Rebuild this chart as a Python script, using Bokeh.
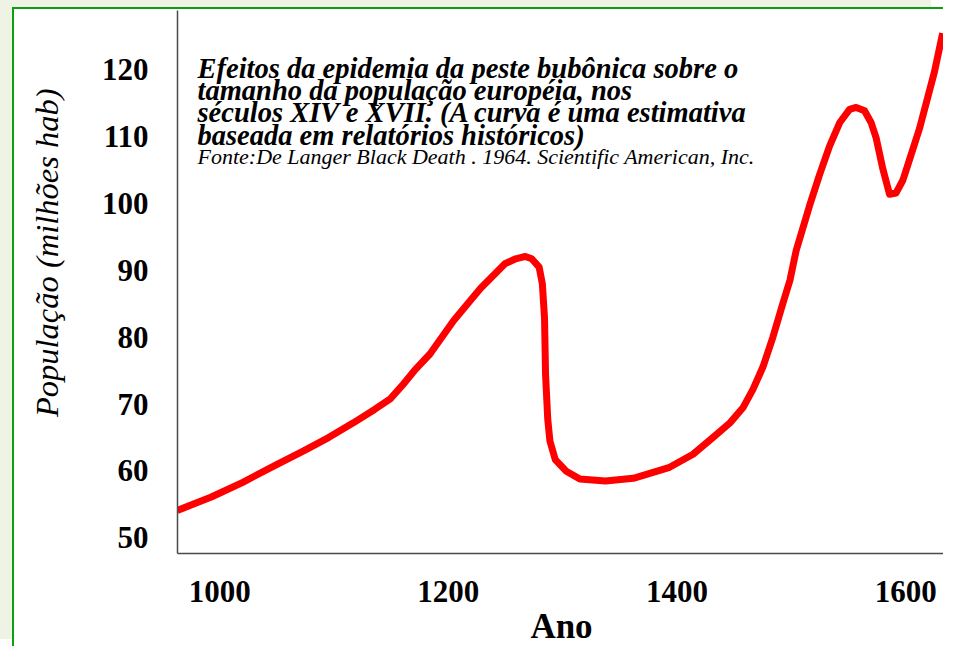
from bokeh.plotting import figure
from bokeh.models import FixedTicker, Range1d, Label, Title, LinearAxis
from bokeh.embed import file_html
from bokeh.resources import INLINE

# ---- data ----
years = [963, 992.7, 1020.2, 1046.8, 1073.4, 1095.2, 1116.9, 1135.5, 1149.2, 1159.7,
         1170.2, 1183.9, 1204.7, 1228.0, 1249.5, 1258.9, 1267.3, 1272.9, 1279.4, 1282.2,
         1284.1, 1285.0, 1286.9, 1288.8, 1293.5, 1302.8, 1315.0, 1337.4, 1361.7, 1393.5,
         1414.0, 1431.4, 1446.3, 1457.6, 1466.4, 1475.1, 1483.8, 1492.6, 1498.7, 1504.2,
         1515.9, 1524.6, 1533.4, 1542.2, 1550.9, 1556.7, 1564.0, 1569.8, 1574.2, 1580.0,
         1585.9, 1591.6, 1597.5, 1603.2, 1612.0, 1625.1, 1632.3]
population = [54.1, 56.1, 58.3, 60.7, 63.0, 65.0, 67.2, 69.2, 70.8, 72.8,
              75.0, 77.5, 82.5, 87.3, 91.0, 91.75, 92.1, 91.75, 90.5, 88.0,
              82.9, 74.5, 67.8, 64.5, 61.7, 60.0, 58.8, 58.5, 58.9, 60.55,
              62.5, 65.0, 67.2, 69.45, 72.2, 75.55, 80.0, 85.1, 88.5, 93.0,
              99.7, 104.3, 108.6, 112.1, 114.1, 114.4, 113.9, 112.1, 109.8, 105.2,
              101.4, 101.6, 103.5, 106.5, 111.2, 119.7, 125.5]
x_ticks = [1000, 1200, 1400, 1600]
y_ticks = [50, 60, 70, 80, 90, 100, 110, 120]
title_lines = [
    "Efeitos da epidemia da peste bubônica sobre o",
    "tamanho  da população européia, nos",
    "séculos XIV e XVII. (A curva é uma estimativa",
    "baseada em relatórios históricos)",
]
source_line = "Fonte:De Langer Black Death . 1964. Scientific American, Inc."
y_label = "População (milhões hab)"
x_label = "Ano"

# ---- figure geometry ----
X0, X1 = 963.1, 1634.8
Y0, Y1 = 47.65, 128.9
W, H = 931, 639
LEFT, TOP, BOTTOM = 163, 1, 92
FRAME_W = W - LEFT
FRAME_H = H - TOP - BOTTOM

GREEN = "#0e9e12"
BACK = "#eef3e3"

p = figure(width=W, height=H, output_backend="svg", toolbar_location=None,
           x_range=Range1d(X0, X1), y_range=Range1d(Y0, Y1),
           min_border_left=LEFT, min_border_right=0, min_border_top=TOP,
           min_border_bottom=BOTTOM)
# green frame around the whole chart, light backdrop outside it
p.styles = {"margin-left": "12px", "margin-top": "7px",
            "border-left": f"2px solid {GREEN}", "border-top": f"2px solid {GREEN}",
            "box-shadow": f"-12px -7px 0 0 {BACK}"}
p.background_fill_color = "white"
p.border_fill_color = "white"
p.outline_line_color = None
p.grid.visible = False

p.line(years, population, line_color="#ff0000", line_width=7, line_join="round")

FONT = "Liberation Serif"
for ax in (p.xaxis[0], p.yaxis[0]):
    ax.axis_line_color = "#4a4a4a"
    ax.axis_line_width = 1.5
    ax.major_tick_line_color = None
    ax.minor_tick_line_color = None
    ax.major_tick_out = 0
    ax.major_tick_in = 0
    ax.major_label_text_font = FONT
    ax.major_label_text_font_style = "bold"
    ax.major_label_text_color = "black"
    ax.axis_label_text_font = FONT
    ax.axis_label_text_color = "black"

p.xaxis.ticker = FixedTicker(ticks=x_ticks)
p.xaxis.major_label_text_font_size = "31px"
p.xaxis.major_label_standoff = 27
p.xaxis.axis_label = x_label
p.xaxis.axis_label_text_font_size = "35px"
p.xaxis.axis_label_text_font_style = "bold"
p.xaxis.axis_label_standoff = 2

p.yaxis.ticker = FixedTicker(ticks=y_ticks)
p.yaxis.major_label_text_font_size = "31px"
p.yaxis.major_label_standoff = 29

# invisible spacer (white tick on white) between tick labels and the y title
spacer = LinearAxis(ticker=FixedTicker(ticks=[y_ticks[0]]), axis_line_color=None,
                    major_tick_line_color="white", minor_tick_line_color=None,
                    major_tick_out=24, major_tick_in=0, minor_tick_out=0,
                    minor_tick_in=0, major_label_standoff=0,
                    major_label_overrides={y_ticks[0]: ""},
                    major_label_text_font_size="1px")
p.add_layout(spacer, "left")

# y-axis title: a rotated title in the left panel, outside the tick labels
p.add_layout(Title(text=y_label, text_font=FONT, text_font_style="italic",
                   text_font_size="32.5px", text_color="black", align="right",
                   offset=78, standoff=20), "left")


# helpers to place annotation text relative to the frame (pixels from frame corner)
def fx(px):
    return X0 + px * (X1 - X0) / FRAME_W


def fy(py):
    return Y1 - py * (Y1 - Y0) / FRAME_H


for i, line in enumerate(title_lines):
    p.add_layout(Label(x=fx(20), y=fy(58 + 22.5 * i), text=line,
                       text_font=FONT, text_font_style="bold italic",
                       text_font_size="28.5px", text_baseline="middle",
                       text_color="black"))
p.add_layout(Label(x=fx(20), y=fy(147), text=source_line,
                   text_font=FONT, text_font_style="italic",
                   text_font_size="22px", text_baseline="middle",
                   text_color="black"))

open("out.html", "w").write(file_html(p, INLINE))
